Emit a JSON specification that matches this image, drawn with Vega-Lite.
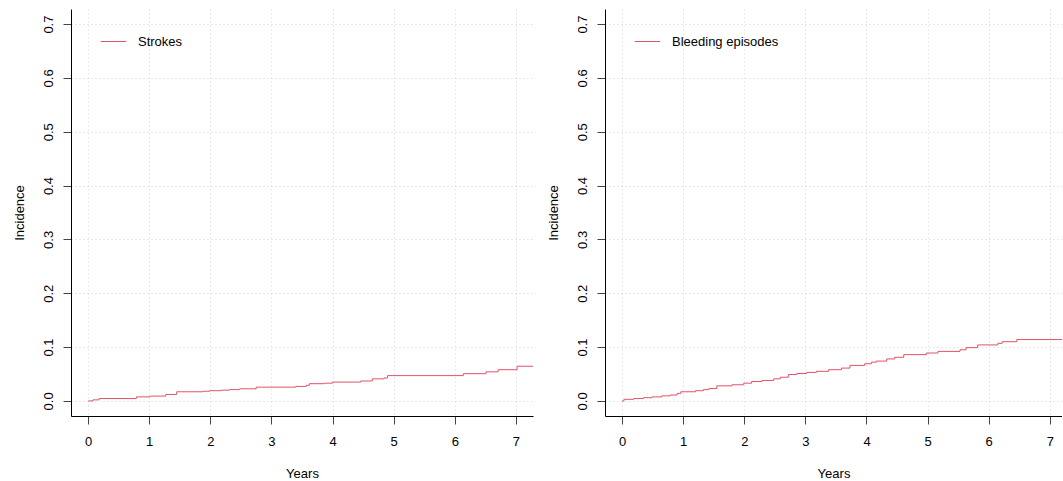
{
  "$schema": "https://vega.github.io/schema/vega-lite/v6.json",
  "background": "white",
  "padding": {"left": 13, "top": 9, "right": 0, "bottom": 0},
  "datasets": {
    "strokes": [
      {"years": 0, "incidence": 0, "series": "Strokes"},
      {"years": 0.08, "incidence": 0.002, "series": "Strokes"},
      {"years": 0.18, "incidence": 0.0044, "series": "Strokes"},
      {"years": 0.79, "incidence": 0.0075, "series": "Strokes"},
      {"years": 1.01, "incidence": 0.009, "series": "Strokes"},
      {"years": 1.27, "incidence": 0.012, "series": "Strokes"},
      {"years": 1.45, "incidence": 0.017, "series": "Strokes"},
      {"years": 1.88, "incidence": 0.018, "series": "Strokes"},
      {"years": 1.99, "incidence": 0.019, "series": "Strokes"},
      {"years": 2.18, "incidence": 0.02, "series": "Strokes"},
      {"years": 2.31, "incidence": 0.021, "series": "Strokes"},
      {"years": 2.48, "incidence": 0.0225, "series": "Strokes"},
      {"years": 2.75, "incidence": 0.0256, "series": "Strokes"},
      {"years": 3.4, "incidence": 0.027, "series": "Strokes"},
      {"years": 3.57, "incidence": 0.029, "series": "Strokes"},
      {"years": 3.62, "incidence": 0.032, "series": "Strokes"},
      {"years": 3.87, "incidence": 0.033, "series": "Strokes"},
      {"years": 4.0, "incidence": 0.035, "series": "Strokes"},
      {"years": 4.46, "incidence": 0.037, "series": "Strokes"},
      {"years": 4.65, "incidence": 0.041, "series": "Strokes"},
      {"years": 4.84, "incidence": 0.0425, "series": "Strokes"},
      {"years": 4.9, "incidence": 0.047, "series": "Strokes"},
      {"years": 6.14, "incidence": 0.0506, "series": "Strokes"},
      {"years": 6.51, "incidence": 0.054, "series": "Strokes"},
      {"years": 6.71, "incidence": 0.058, "series": "Strokes"},
      {"years": 7.02, "incidence": 0.0644, "series": "Strokes"},
      {"years": 7.3, "incidence": 0.0644, "series": "Strokes"}
    ],
    "bleeding": [
      {"years": 0, "incidence": 0, "series": "Bleeding episodes"},
      {"years": 0.03, "incidence": 0.003, "series": "Bleeding episodes"},
      {"years": 0.19, "incidence": 0.0044, "series": "Bleeding episodes"},
      {"years": 0.35, "incidence": 0.006, "series": "Bleeding episodes"},
      {"years": 0.49, "incidence": 0.0075, "series": "Bleeding episodes"},
      {"years": 0.65, "incidence": 0.0094, "series": "Bleeding episodes"},
      {"years": 0.79, "incidence": 0.011, "series": "Bleeding episodes"},
      {"years": 0.9, "incidence": 0.014, "series": "Bleeding episodes"},
      {"years": 0.96, "incidence": 0.017, "series": "Bleeding episodes"},
      {"years": 1.2, "incidence": 0.019, "series": "Bleeding episodes"},
      {"years": 1.33, "incidence": 0.021, "series": "Bleeding episodes"},
      {"years": 1.42, "incidence": 0.023, "series": "Bleeding episodes"},
      {"years": 1.55, "incidence": 0.028, "series": "Bleeding episodes"},
      {"years": 1.8, "incidence": 0.03, "series": "Bleeding episodes"},
      {"years": 1.99, "incidence": 0.033, "series": "Bleeding episodes"},
      {"years": 2.12, "incidence": 0.036, "series": "Bleeding episodes"},
      {"years": 2.29, "incidence": 0.038, "series": "Bleeding episodes"},
      {"years": 2.48, "incidence": 0.041, "series": "Bleeding episodes"},
      {"years": 2.59, "incidence": 0.044, "series": "Bleeding episodes"},
      {"years": 2.72, "incidence": 0.049, "series": "Bleeding episodes"},
      {"years": 2.86, "incidence": 0.051, "series": "Bleeding episodes"},
      {"years": 3.02, "incidence": 0.053, "series": "Bleeding episodes"},
      {"years": 3.18, "incidence": 0.055, "series": "Bleeding episodes"},
      {"years": 3.38, "incidence": 0.058, "series": "Bleeding episodes"},
      {"years": 3.59, "incidence": 0.061, "series": "Bleeding episodes"},
      {"years": 3.73, "incidence": 0.066, "series": "Bleeding episodes"},
      {"years": 3.97, "incidence": 0.069, "series": "Bleeding episodes"},
      {"years": 4.08, "incidence": 0.072, "series": "Bleeding episodes"},
      {"years": 4.16, "incidence": 0.074, "series": "Bleeding episodes"},
      {"years": 4.33, "incidence": 0.078, "series": "Bleeding episodes"},
      {"years": 4.46, "incidence": 0.081, "series": "Bleeding episodes"},
      {"years": 4.61, "incidence": 0.086, "series": "Bleeding episodes"},
      {"years": 4.98, "incidence": 0.089, "series": "Bleeding episodes"},
      {"years": 5.17, "incidence": 0.092, "series": "Bleeding episodes"},
      {"years": 5.53, "incidence": 0.095, "series": "Bleeding episodes"},
      {"years": 5.63, "incidence": 0.099, "series": "Bleeding episodes"},
      {"years": 5.82, "incidence": 0.104, "series": "Bleeding episodes"},
      {"years": 6.15, "incidence": 0.107, "series": "Bleeding episodes"},
      {"years": 6.22, "incidence": 0.11, "series": "Bleeding episodes"},
      {"years": 6.46, "incidence": 0.114, "series": "Bleeding episodes"},
      {"years": 7.3, "incidence": 0.114, "series": "Bleeding episodes"}
    ]
  },
  "config": {
    "font": "Liberation Sans",
    "view": {"stroke": null},
    "concat": {"spacing": 72},
    "axis": {
      "labelFont": "Liberation Sans",
      "titleFont": "Liberation Sans",
      "labelFontSize": 13,
      "titleFontSize": 13,
      "titleFontWeight": "normal",
      "labelColor": "black",
      "titleColor": "black",
      "domainColor": "black",
      "domainWidth": 1,
      "tickColor": "#444444",
      "tickSize": 8,
      "tickWidth": 1,
      "grid": true,
      "gridColor": "#d3d3d3",
      "gridDash": [1, 3],
      "gridWidth": 1
    },
    "legend": {
      "labelFont": "Liberation Sans",
      "labelFontSize": 13,
      "labelColor": "black"
    }
  },
  "bounds": "flush",
  "resolve": {"scale": {"color": "independent"}, "legend": {"color": "independent"}},
  "hconcat": [
    {
      "width": 462,
      "height": 407,
      "data": {"name": "strokes"},
      "mark": {"type": "line", "interpolate": "step-after", "strokeWidth": 1, "clip": true},
      "encoding": {
        "x": {
          "field": "years", "type": "quantitative",
          "scale": {"domain": [-0.28, 7.28], "nice": false, "zero": false},
          "axis": {"title": "Years", "values": [0, 1, 2, 3, 4, 5, 6, 7], "format": "d", "labelPadding": 11, "titlePadding": 19, "labelFlush": false}
        },
        "y": {
          "field": "incidence", "type": "quantitative",
          "scale": {"domain": [-0.028, 0.728], "nice": false, "zero": false},
          "axis": {"title": "Incidence", "values": [0, 0.1, 0.2, 0.3, 0.4, 0.5, 0.6, 0.7], "format": ".1f", "labelAngle": 270, "labelAlign": "center", "labelBaseline": "bottom", "labelPadding": 8, "titlePadding": 16, "labelFlush": false}
        },
        "color": {
          "field": "series", "type": "nominal",
          "scale": {"range": ["#DF536B"]},
          "legend": {"orient": "none", "legendX": 29, "legendY": 19, "title": null, "symbolType": "stroke", "symbolSize": 650, "symbolStrokeWidth": 1, "labelOffset": 11, "padding": 0}
        }
      }
    },
    {
      "width": 457,
      "height": 407,
      "data": {"name": "bleeding"},
      "mark": {"type": "line", "interpolate": "step-after", "strokeWidth": 1, "clip": true},
      "encoding": {
        "x": {
          "field": "years", "type": "quantitative",
          "scale": {"domain": [-0.28, 7.2], "nice": false, "zero": false},
          "axis": {"title": "Years", "values": [0, 1, 2, 3, 4, 5, 6, 7], "format": "d", "labelPadding": 11, "titlePadding": 19, "labelFlush": false}
        },
        "y": {
          "field": "incidence", "type": "quantitative",
          "scale": {"domain": [-0.028, 0.728], "nice": false, "zero": false},
          "axis": {"title": "Incidence", "values": [0, 0.1, 0.2, 0.3, 0.4, 0.5, 0.6, 0.7], "format": ".1f", "labelAngle": 270, "labelAlign": "center", "labelBaseline": "bottom", "labelPadding": 8, "titlePadding": 16, "labelFlush": false}
        },
        "color": {
          "field": "series", "type": "nominal",
          "scale": {"range": ["#DF536B"]},
          "legend": {"orient": "none", "legendX": 29, "legendY": 19, "title": null, "symbolType": "stroke", "symbolSize": 650, "symbolStrokeWidth": 1, "labelOffset": 11, "padding": 0}
        }
      }
    }
  ]
}
